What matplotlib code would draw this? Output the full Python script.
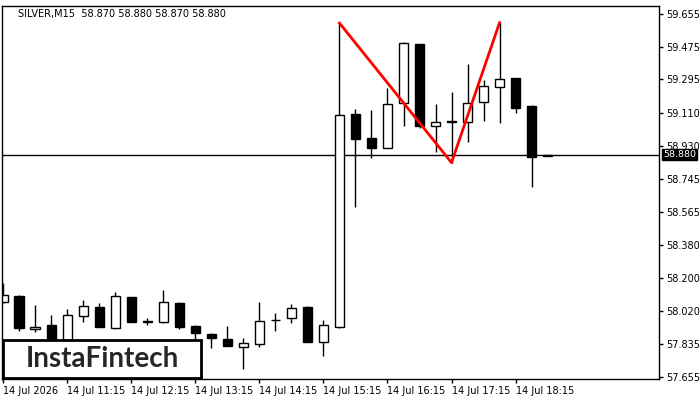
import matplotlib
matplotlib.use("Agg")
import matplotlib.pyplot as plt
import matplotlib.transforms as mtransforms
from matplotlib.patches import Rectangle
import numpy as np

# SILVER M15 candles, 14 Jul 10:15 .. 18:45
opens = [58.068, 58.101, 57.920, 57.942, 57.860, 57.992, 58.041, 57.925, 58.096, 57.956,
         57.958, 58.063, 57.936, 57.892, 57.864, 57.820, 57.837, 57.967, 57.980, 58.041,
         57.848, 57.931, 59.104, 58.970, 58.917, 59.164, 59.490, 59.038, 59.060, 59.060,
         59.170, 59.253, 59.302, 59.148, 58.870]
highs = [58.173, 58.107, 58.052, 57.997, 58.030, 58.079, 58.063, 58.123, 58.098, 57.980,
         58.134, 58.066, 57.940, 57.899, 57.936, 57.868, 58.068, 58.008, 58.057, 58.047,
         57.969, 59.605, 59.132, 59.126, 59.246, 59.499, 59.492, 59.158, 59.227, 59.380,
         59.291, 59.607, 59.305, 59.154, 58.880]
lows = [58.065, 57.908, 57.903, 57.820, 57.830, 57.958, 57.928, 57.919, 57.956, 57.942,
        57.955, 57.919, 57.865, 57.814, 57.824, 57.699, 57.820, 57.910, 57.953, 57.846,
        57.771, 57.925, 58.592, 58.863, 58.915, 59.040, 59.025, 58.896, 58.832, 58.952,
        59.065, 59.054, 59.108, 58.704, 58.870]
closes = [58.107, 57.925, 57.930, 57.850, 57.997, 58.046, 57.930, 58.101, 57.958, 57.961,
          58.068, 57.930, 57.897, 57.870, 57.826, 57.842, 57.964, 57.971, 58.035, 57.848,
          57.942, 59.099, 58.966, 58.917, 59.159, 59.495, 59.040, 59.060, 59.064, 59.163,
          59.258, 59.297, 59.139, 58.865, 58.880]

# pattern line (bar index, price)
pattern_idx = [21, 28, 31]
pattern_price = [59.605, 58.836, 59.607]

last_price = 58.880
ytick_values = [59.655, 59.475, 59.295, 59.110, 58.930, 58.745, 58.565, 58.380,
                58.200, 58.020, 57.835, 57.655]
xtick_idx = [0, 4, 8, 12, 16, 20, 24, 28, 32]
xtick_labels = ["14 Jul 2026", "14 Jul 11:15", "14 Jul 12:15", "14 Jul 13:15",
                "14 Jul 14:15", "14 Jul 15:15", "14 Jul 16:15", "14 Jul 17:15",
                "14 Jul 18:15"]
title = "SILVER,M15  58.870 58.880 58.870 58.880"

W, H = 700, 400
fig = plt.figure(figsize=(7, 4), dpi=100)
ax = fig.add_axes([2 / W, (H - 379) / H, 657 / W, 373 / H])

x = np.arange(len(opens))
body_w = 0.6
for i, o, h, l, c in zip(x, opens, highs, lows, closes):
    ax.vlines(i, l, h, color="black", lw=1, zorder=1)
    bull = c >= o
    ax.add_patch(Rectangle((i - body_w / 2, min(o, c)), body_w, max(abs(c - o), 0.004),
                           facecolor="white" if bull else "black",
                           edgecolor="black", lw=1, zorder=2))

ax.axhline(last_price, color="black", lw=1, zorder=1.5)
ax.plot(pattern_idx, pattern_price, color="red", lw=2, zorder=3)

ax.set_xlim(-0.08, 40.96)
ax.set_ylim(57.644, 59.699)

ax.yaxis.tick_right()
ax.set_yticks(ytick_values)
ax.set_yticklabels([f"{v:.3f}" for v in ytick_values])
ax.set_xticks(xtick_idx)
ax.set_xticklabels(xtick_labels)
for lab in ax.get_xticklabels():
    lab.set_horizontalalignment("left")
ax.tick_params(axis="both", labelsize=7, length=3, width=1, pad=2, colors="black")
for sp in ax.spines.values():
    sp.set_linewidth(1)

ax.text(16 / 657, 1 - 8 / 373, title, transform=ax.transAxes, fontsize=7,
        va="center", ha="left")

# current price tag
trans = mtransforms.blended_transform_factory(ax.transAxes, ax.transData)
ax.text(1.006, last_price, f"{last_price:.3f}", transform=trans, fontsize=6.8,
        color="white", va="center", ha="left", clip_on=False,
        bbox=dict(boxstyle="square,pad=0.1", facecolor="black", edgecolor="black"))

# logo box
fig.patches.append(Rectangle((3 / W, (H - 378) / H), 198 / W, 38 / H,
                             transform=fig.transFigure, facecolor="white",
                             edgecolor="black", lw=2, zorder=5))
fig.text(102 / W, (H - 359) / H, "InstaFintech", fontsize=20, family="Lato",
         fontweight="bold", color="#262626", ha="center", va="center", zorder=6)

fig.savefig("out.png", dpi=100)
